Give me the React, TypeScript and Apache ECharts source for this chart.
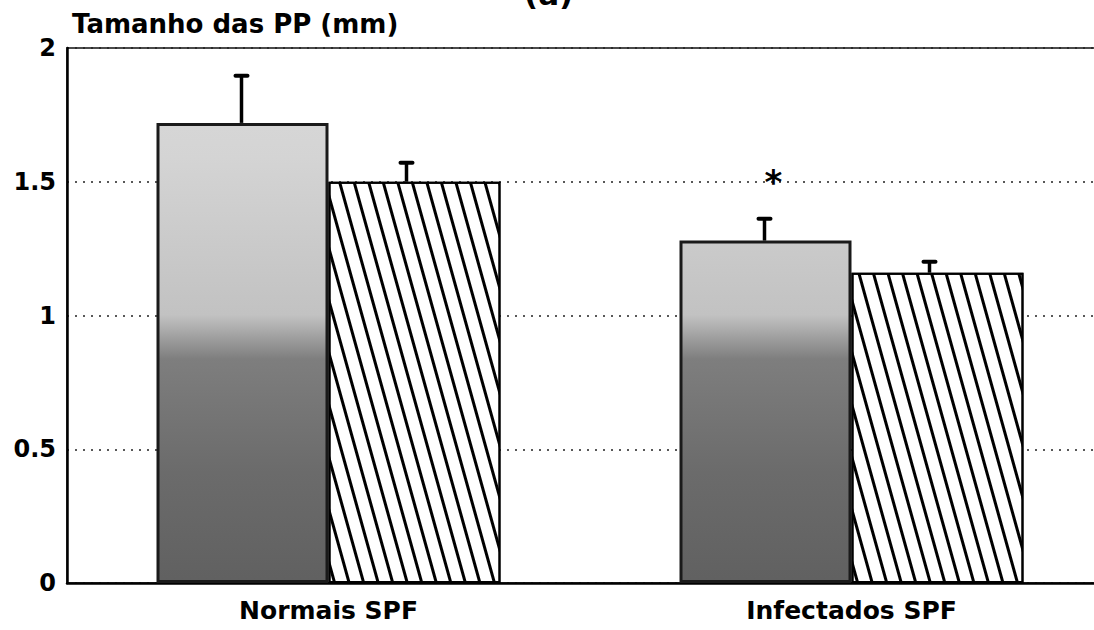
import React, { useEffect, useRef } from "react";
import * as echarts from "echarts";

const categories = ["Normais SPF", "Infectados SPF"];
const greyValues = [1.72, 1.28];
const greyErrors = [0.18, 0.085];
const hatchValues = [1.5, 1.16];
const hatchErrors = [0.075, 0.045];
const significanceMarks = ["", "*"];
const significanceLevels = [0, 1.51];
const yMin = 0;
const yMax = 2;
const yStep = 0.5;
const yAxisTitle = "Tamanho das PP (mm)";
const panelLabel = "(a)";

const FONT = "DejaVu Sans";
const BAR_W = 172;

export default function App() {
  const ref = useRef<HTMLDivElement>(null);
  useEffect(() => {
    document.body.style.margin = "0";
    if (!ref.current) return;
    const chart = echarts.init(ref.current, null, { renderer: "svg" });

    const errorSeries = (vals: number[], errs: number[], offset: number, name: string) => ({
      type: "custom",
      name,
      z: 10,
      encode: { x: 0, y: 1 },
      data: categories.map((_, i) => [i, vals[i], errs[i]]),
      renderItem: (params: any, api: any) => {
        const i = api.value(0);
        const v = api.value(1);
        const e = api.value(2);
        const base = api.coord([i, v]);
        const top = api.coord([i, v + e]);
        const x = base[0] + offset;
        return {
          type: "group",
          children: [
            {
              type: "line",
              shape: { x1: x, y1: base[1], x2: x, y2: top[1] },
              style: { stroke: "#000", lineWidth: 3.5 },
            },
            {
              type: "line",
              shape: { x1: x - 6, y1: top[1] + 1, x2: x + 6, y2: top[1] + 1 },
              style: { stroke: "#000", lineWidth: 4, lineCap: "round" },
            },
          ],
        };
      },
    });

    chart.setOption({
      animation: false,
      backgroundColor: "#fff",
      grid: {
        left: 67,
        width: 1046,
        top: 48,
        bottom: 47,
        outerBoundsMode: "none",
        containLabel: false,
        show: true,
        borderColor: "#111",
        borderWidth: 1.5,
      },
      graphic: [
        {
          type: "text",
          left: 524,
          top: -22,
          style: { text: panelLabel, font: `bold 31px ${FONT}`, fill: "#000" },
        },
      ],
      xAxis: {
        type: "category",
        data: categories,
        axisLine: { show: true, lineStyle: { color: "#000", width: 2.5 } },
        axisTick: { show: false },
        axisLabel: { color: "#000", fontFamily: FONT, fontWeight: "bold", fontSize: 25, margin: 15 },
      },
      yAxis: {
        type: "value",
        min: yMin,
        max: yMax,
        interval: yStep,
        name: yAxisTitle,
        nameLocation: "end",
        nameGap: 24,
        nameTextStyle: {
          color: "#000",
          fontFamily: FONT,
          fontWeight: "bold",
          fontSize: 26,
          align: "left",
          verticalAlign: "middle",
          padding: [0, 0, 0, 5],
        },
        axisLine: { show: true, lineStyle: { color: "#000", width: 2.5 } },
        axisTick: { show: false },
        splitLine: { show: true, lineStyle: { color: "#222", width: 1.5, type: [2, 6] } },
        axisLabel: {
          color: "#000",
          fontFamily: FONT,
          fontWeight: "bold",
          fontSize: 24,
          margin: 11,
          formatter: (v: number) => String(v),
        },
      },
      series: [
        {
          type: "bar",
          name: "grey",
          data: greyValues,
          barWidth: BAR_W,
          barGap: "0%",
          itemStyle: {
            color: {
              type: "linear",
              x: 0,
              y: 0,
              x2: 0,
              y2: 630,
              global: true,
              colorStops: [
                { offset: 0, color: "#dedede" },
                { offset: 0.25, color: "#d4d4d4" },
                { offset: 0.5, color: "#c2c2c2" },
                { offset: 0.57, color: "#7e7e7e" },
                { offset: 0.75, color: "#6b6b6b" },
                { offset: 1, color: "#5c5c5c" },
              ],
            },
            borderColor: "#1a1a1a",
            borderWidth: 3,
          },
        },
        {
          type: "bar",
          name: "hatched",
          data: hatchValues,
          barWidth: BAR_W,
          barGap: "0%",
          itemStyle: {
            color: "#fff",
            borderColor: "#000",
            borderWidth: 2,
            decal: {
              symbol: "rect",
              symbolSize: 1,
              color: "#000",
              dashArrayX: [1, 0],
              dashArrayY: [3, 11],
              rotation: 1.3,
            },
          },
        },
        errorSeries(greyValues, greyErrors, -BAR_W / 2 - 1, "greyErr"),
        errorSeries(hatchValues, hatchErrors, BAR_W / 2 - 8, "hatchErr"),
        {
          type: "custom",
          name: "sig",
          z: 11,
          encode: { x: 0, y: 1 },
          data: categories.map((_, i) => [i, significanceLevels[i]]),
          renderItem: (params: any, api: any) => {
            const i = api.value(0);
            const mark = significanceMarks[i];
            if (!mark) return null;
            const p = api.coord([i, api.value(1)]);
            return {
              type: "text",
              x: p[0] - BAR_W / 2 + 8,
              y: p[1] + 3,
              style: {
                text: mark,
                font: `bold 34px ${FONT}`,
                fill: "#000",
                textAlign: "center",
                textVerticalAlign: "middle",
              },
            };
          },
        },
      ],
    });
    return () => chart.dispose();
  }, []);
  return <div ref={ref} style={{ width: 1094, height: 630 }} />;
}
